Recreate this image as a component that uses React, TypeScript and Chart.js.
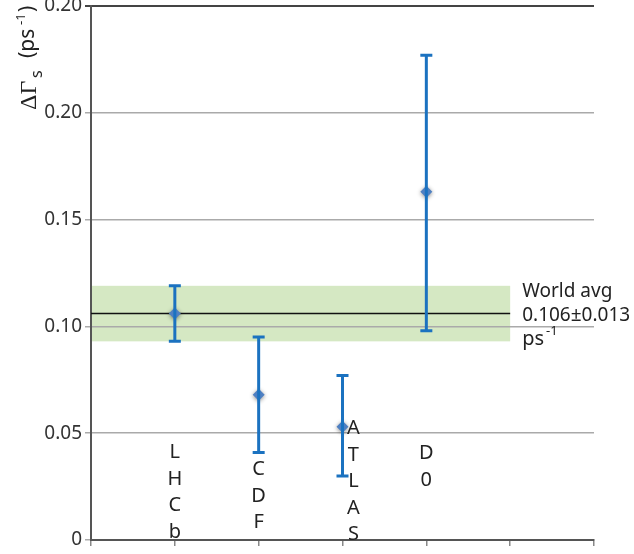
import React, { useEffect, useRef } from "react";
import { Chart, registerables } from "chart.js";

Chart.register(...registerables);

// ---- data ----
const categories = ["LHCb", "CDF", "ATLAS", "D0"];
const xPositions = [1, 2, 3, 4];
const values = [0.106, 0.068, 0.053, 0.163];
const errLow = [0.013, 0.027, 0.023, 0.065];
const errHigh = [0.013, 0.027, 0.024, 0.064];
const labelX = [1, 2, 3.13, 4];
const labelY = [0.0383, 0.0304, 0.0495, 0.0379];
const yTickLabels = ["0", "0.05", "0.10", "0.15", "0.20", "0.20"];
const worldAvg = 0.106;
const worldErr = 0.013;
const worldAvgText = ["World avg", "0.106\u00b10.013"];
const xMin = 0;
const xMax = 6;
const bandEnd = 5;

const FONT = "'Noto Sans', sans-serif";

const overlayPlugin = {
  id: "overlay",
  beforeDraw(chart: any) {
    const { ctx, scales } = chart;
    const x = scales.x, y = scales.y;
    ctx.save();
    ctx.fillStyle = "#d5e8c3";
    const x0 = x.getPixelForValue(xMin);
    const x1 = x.getPixelForValue(bandEnd);
    const yt = y.getPixelForValue(worldAvg + worldErr);
    const yb = y.getPixelForValue(worldAvg - worldErr);
    ctx.fillRect(x0, yt, x1 - x0, yb - yt);
    ctx.restore();
  },
  beforeDatasetsDraw(chart: any) {
    const { ctx, scales } = chart;
    const x = scales.x, y = scales.y;
    ctx.save();
    ctx.strokeStyle = "#111";
    ctx.lineWidth = 1.5;
    const yy = y.getPixelForValue(worldAvg);
    ctx.beginPath();
    ctx.moveTo(x.getPixelForValue(xMin), yy);
    ctx.lineTo(x.getPixelForValue(bandEnd), yy);
    ctx.stroke();
    ctx.restore();
    ctx.save();
    ctx.shadowColor = "rgba(0,0,0,0.45)";
    ctx.shadowBlur = 4;
    ctx.shadowOffsetY = 1;
  },
  afterDatasetsDraw(chart: any) {
    const { ctx, scales } = chart;
    ctx.restore();
    const x = scales.x, y = scales.y;
    ctx.save();
    ctx.strokeStyle = "#1b72c0";
    ctx.lineWidth = 3;
    values.forEach((v, i) => {
      const px = x.getPixelForValue(xPositions[i]);
      const pt = y.getPixelForValue(v + errHigh[i]);
      const pb = y.getPixelForValue(v - errLow[i]);
      ctx.beginPath();
      ctx.moveTo(px, pt);
      ctx.lineTo(px, pb);
      ctx.moveTo(px - 6, pt);
      ctx.lineTo(px + 6, pt);
      ctx.moveTo(px - 6, pb);
      ctx.lineTo(px + 6, pb);
      ctx.stroke();
    });
    ctx.restore();
  },
  afterDraw(chart: any) {
    const { ctx, scales } = chart;
    const x = scales.x, y = scales.y;
    ctx.save();
    // category labels, stacked vertically
    ctx.fillStyle = "#222";
    ctx.font = `20px ${FONT}`;
    ctx.textAlign = "center";
    ctx.textBaseline = "alphabetic";
    categories.forEach((c, i) => {
      const px = x.getPixelForValue(labelX[i]);
      const py = y.getPixelForValue(labelY[i]);
      c.split("").forEach((ch, k) => {
        ctx.fillText(ch, px, py + k * 26.5);
      });
    });
    // world average text
    ctx.textAlign = "left";
    ctx.font = `19px ${FONT}`;
    const tx = x.getPixelForValue(bandEnd) + 12;
    const base = y.getPixelForValue(worldAvg);
    ctx.fillText(worldAvgText[0], tx, base - 17);
    ctx.fillText(worldAvgText[1], tx, base + 7);
    ctx.font = `20px ${FONT}`;
    ctx.fillText("ps", tx, base + 31);
    const w = ctx.measureText("ps").width;
    ctx.font = `13px ${FONT}`;
    ctx.fillText("-1", tx + w + 2, base + 21);

    // y axis title (rotated, reads bottom to top)
    ctx.translate(0, 110);
    ctx.rotate(-Math.PI / 2);
    // in rotated frame: x = distance up from y=110, y = screen x
    ctx.font = `24px 'Liberation Serif', serif`;
    ctx.fillText("\u0394\u0393", 0, 36);
    ctx.font = `16px ${FONT}`;
    ctx.fillText("s", 32, 42);
    ctx.font = `21px ${FONT}`;
    ctx.fillText("(ps", 52, 34);
    ctx.font = `13px ${FONT}`;
    ctx.fillText("-1", 85, 25);
    ctx.font = `21px ${FONT}`;
    ctx.fillText(")", 98, 34);
    ctx.restore();
  },
};

export default function App() {
  const ref = useRef<HTMLCanvasElement | null>(null);
  useEffect(() => {
    document.body.style.margin = "0";
    const canvas = ref.current!;
    const chart = new Chart(canvas, {
      type: "scatter",
      data: {
        datasets: [
          {
            data: xPositions.map((xv, i) => ({ x: xv, y: values[i] })),
            pointStyle: "rectRot",
            pointRadius: 6,
            backgroundColor: "#4f80c2",
            borderWidth: 0,
            clip: false as any,
          },
        ],
      },
      options: {
        animation: false,
        responsive: false,
        devicePixelRatio: 1,
        layout: { padding: { top: 5, right: 40, left: 0, bottom: 0 } },
        plugins: { legend: { display: false }, tooltip: { enabled: false } },
        scales: {
          x: {
            type: "linear",
            min: xMin,
            max: xMax,
            ticks: { display: false, stepSize: 1 },
            grid: { drawOnChartArea: false, tickLength: 6, color: "#888", lineWidth: 1.5 },
            border: { color: "#555", width: 2 },
            afterFit: (s: any) => {
              s.height = 14;
              s.paddingLeft = 0;
              s.paddingRight = 0;
            },
          },
          y: {
            min: 0,
            max: 0.25,
            ticks: {
              stepSize: 0.05,
              callback: (_v: any, i: number) => yTickLabels[i],
              font: { family: FONT, size: 19 },
              color: "#333",
              padding: 3,
            },
            grid: {
              color: (c: any) => (Math.abs(c.tick.value - 0.25) < 1e-9 ? "#444" : "#aaa"),
              lineWidth: (c: any) => (Math.abs(c.tick.value - 0.25) < 1e-9 ? 2 : 1.5),
              tickLength: 6,
            },
            border: { color: "#555", width: 2 },
            afterFit: (s: any) => {
              s.width = 91;
              s.paddingTop = 0;
              s.paddingBottom = 0;
            },
          },
        },
      },
      plugins: [overlayPlugin],
    });
    return () => chart.destroy();
  }, []);
  return (
    <div style={{ width: 634, height: 554 }}>
      <canvas ref={ref} width={634} height={554} />
    </div>
  );
}
